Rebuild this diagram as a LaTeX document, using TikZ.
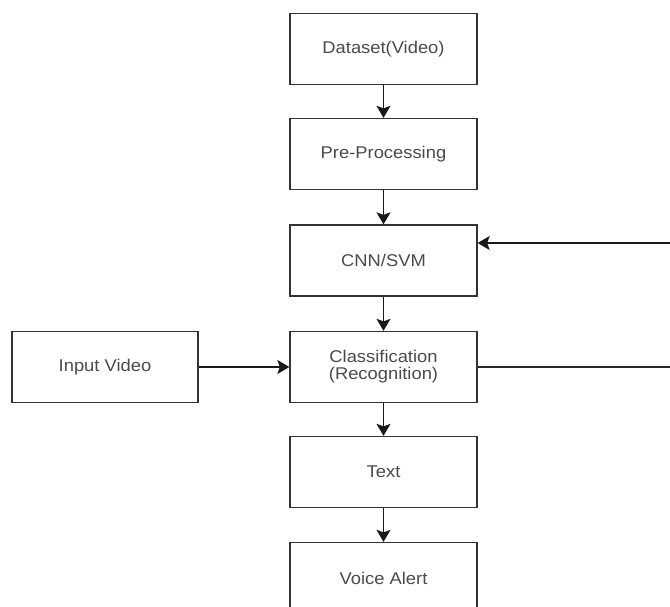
\documentclass[tikz,border=0pt]{standalone}
\usepackage{fontspec}
\setmainfont{Liberation Sans}[FakeStretch=1.08]
\usetikzlibrary{arrows.meta}
\definecolor{txt}{HTML}{4a4a4a}
\begin{document}
\begin{tikzpicture}[x=1pt,y=-1pt,
  box/.style={draw=black!80, line width=1.3pt, minimum width=187pt, minimum height=71pt,
    inner sep=0pt, text=txt, font=\fontsize{17}{17}\selectfont, align=center},
  conn/.style={draw=black!90, line width=1.5pt, -{Stealth[length=12pt,width=14pt,inset=2.5pt]}},
  plain/.style={draw=black!85, line width=1.3pt}]
\useasboundingbox (0,0) rectangle (670,607);
\clip (0,0) rectangle (670,607);
\node[box] (ds) at (383.5,49) {Dataset(Video)};
\node[box] (pp) at (383.5,154) {Pre-Processing};
\node[box] (cnn) at (383.5,260.5) {CNN/SVM};
\node[box] (cls) at (383.5,367) {Classification\\(Recognition)};
\node[box] (txt) at (383.5,472) {Text};
\node[box] (va) at (383.5,578) {Voice Alert};
\node[box, minimum width=186pt] (in) at (105,367) {Input Video};
\coordinate (r1) at (672,243);
\coordinate (r2) at (672,367);
\draw[conn] (ds) -- (pp);
\draw[conn] (pp) -- (cnn);
\draw[conn] (cnn) -- (cls);
\draw[conn] (cls) -- (txt);
\draw[conn] (txt) -- (va);
\draw[conn] (in) -- (cls);
\draw[conn] (r1) -- (r1 -| cnn.east);
\draw[plain] (cls.east) -- (r2);
\end{tikzpicture}
\end{document}
